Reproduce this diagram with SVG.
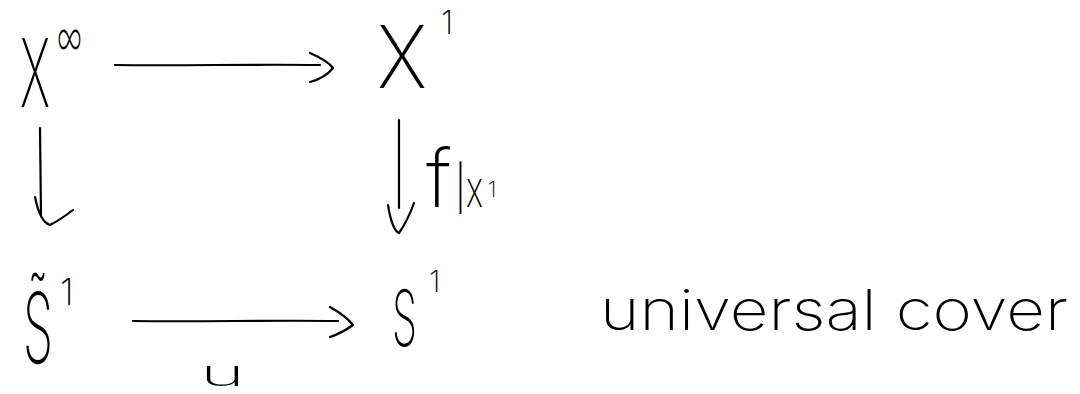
<svg xmlns="http://www.w3.org/2000/svg" width="1080" height="394" viewBox="0 0 1080 394">
<style>
.t{font-family:Inter,"Open Sans",Roboto,"DejaVu Sans","Liberation Sans",sans-serif;font-weight:200;fill:#000}
.c{fill:none;stroke:#000;stroke-width:2.2;stroke-linecap:round;stroke-linejoin:round}
</style>
<rect width="1080" height="394" fill="#fff"/>
<g id="node-Xinf">
<text class="t" x="20" y="107" font-size="95" textLength="30" lengthAdjust="spacingAndGlyphs">X</text>
<text class="t" x="57" y="57" font-size="56" textLength="25" lengthAdjust="spacingAndGlyphs">∞</text>
</g>
<g id="node-X1">
<text class="t" x="377" y="88" font-size="87" textLength="50" lengthAdjust="spacingAndGlyphs">X</text>
<text class="t" x="441" y="34" font-size="32">1</text>
</g>
<g id="node-S1tilde">
<text class="t" x="23" y="363" font-size="98" textLength="30" lengthAdjust="spacingAndGlyphs">S̃</text>
<text class="t" x="60" y="305" font-size="36">1</text>
</g>
<g id="node-S1">
<text class="t" x="392" y="346" font-size="78" textLength="25" lengthAdjust="spacingAndGlyphs">S</text>
<text class="t" x="429" y="292" font-size="30">1</text>
</g>
<g id="node-universal-cover">
<text class="t" x="600" y="330" font-size="56" textLength="468" lengthAdjust="spacingAndGlyphs">universal cover</text>
</g>
<g id="connectors">
<path class="c" d="M115,65 C180,66 250,64 320,65"/>
<path class="c" d="M310,53 Q328,61 333,68 Q325,78 310,82"/>
<path class="c" d="M40,128 L41,215"/>
<path class="c" d="M35,197 Q40,222 50,225 Q60,220 73,210"/>
<path class="c" d="M399,120 L399,208"/>
<path class="c" d="M388,205 Q392,230 399,233 Q408,220 414,203"/>
<path class="c" d="M133,321 C200,322 270,320 338,321"/>
<path class="c" d="M330,307 Q346,316 353,325 Q342,333 330,337"/>
</g>
<g id="label-f">
<text class="t" y="207" font-size="44"><tspan x="426" font-size="80">f</tspan><tspan x="454" y="204">|</tspan><tspan x="466" y="207" font-size="50" textLength="17" lengthAdjust="spacingAndGlyphs">x</tspan><tspan x="488" y="197" font-size="22">1</tspan></text>
</g>
<g id="label-u">
<text class="t" x="200" y="386" font-size="36" textLength="45" lengthAdjust="spacingAndGlyphs">u</text>
</g>
</svg>
